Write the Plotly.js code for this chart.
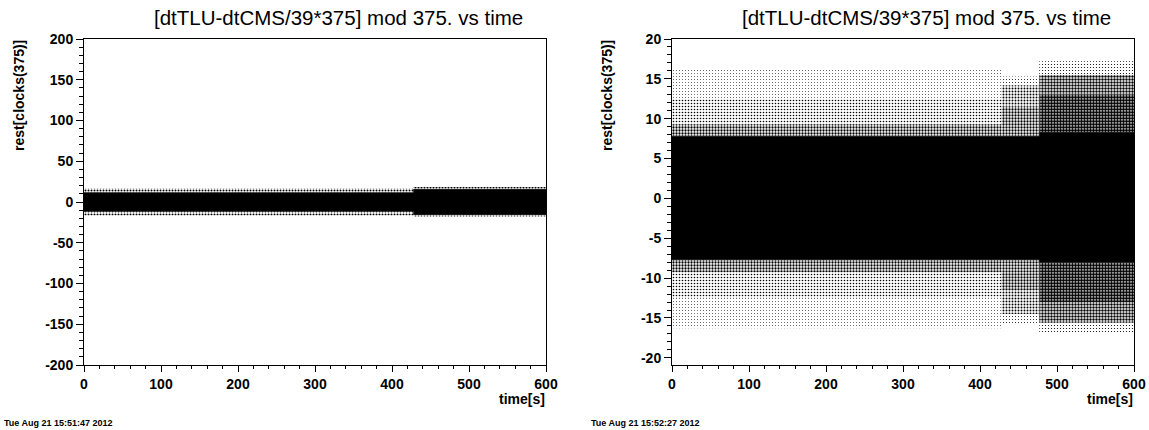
<!DOCTYPE html>
<html>
<head>
<meta charset="utf-8">
<script src="https://cdn.plot.ly/plotly-3.0.1.min.js"></script>
<style>
html,body{margin:0;padding:0;background:#fff;}
#chart{width:1149px;height:430px;}
</style>
</head>
<body>
<div id="chart"></div>
<script>
// ---------- data ----------
const TITLE_TEXT = "[dtTLU-dtCMS/39*375] mod 375. vs time";
const X_TITLE = "time[s]";
const Y_TITLE = "rest[clocks(375)]";
const DATE_LEFT = "Tue Aug 21 15:51:47 2012";
const DATE_RIGHT = "Tue Aug 21 15:52:27 2012";

const X_TICKS = [0, 100, 200, 300, 400, 500, 600];
const X_TICK_LABELS = ["0", "100", "200", "300", "400", "500", "600"];
const L_Y_TICKS = [-200, -150, -100, -50, 0, 50, 100, 150, 200];
const L_Y_TICK_LABELS = ["-200", "-150", "-100", "-50", "0", "50", "100", "150", "200"];
const R_Y_TICKS = [-20, -15, -10, -5, 0, 5, 10, 15, 20];
const R_Y_TICK_LABELS = ["-20", "-15", "-10", "-5", "0", "5", "10", "15", "20"];

// left panel: time segments and envelope of the point cloud
const L_T = [0, 428, 600];
const L_UP_CORE = [11.5, 15.5];
const L_LO_CORE = [-11.5, -15.5];
const L_UP_FRINGE = [16.5, 18.5];
const L_LO_FRINGE = [-16.5, -18.5];
const L_DENS_FRINGE = [0.35, 0.4];

// right panel: time segments, envelopes (per segment) and point density of each layer
const R_T = [0, 428, 477, 600];
const R_UP_CORE = [7.8, 7.8, 8.3];
const R_UP_1 = [9.3, 11.5, 13.0];
const R_UP_2 = [12.5, 14.2, 15.5];
const R_UP_3 = [16.3, 15.3, 17.2];
const R_LO_CORE = [-7.7, -7.7, -8.0];
const R_LO_1 = [-9.3, -11.5, -13.0];
const R_LO_2 = [-12.5, -14.5, -15.6];
const R_LO_3 = [-16.3, -15.8, -17.0];
const R_DENS_1 = [0.45, 0.45, 0.75];
const R_DENS_2 = [0.22, 0.32, 0.5];
const R_DENS_3 = [0.08, 0.1, 0.13];

// ---------- build traces ----------
const W = 1149, H = 430;
const traces = [];

function band(xa, ya, t0, t1, a, b, dens) {
  traces.push({
    type: 'scatter', mode: 'lines', xaxis: xa, yaxis: ya,
    x: [t0, t1, t1, t0, t0], y: [a, a, b, b, a],
    fill: 'toself', line: {width: 0, color: 'rgba(0,0,0,0)'},
    fillcolor: '#ffffff',
    fillpattern: {shape: '.', size: 3, solidity: dens, fgcolor: '#000000', bgcolor: '#ffffff'},
    hoverinfo: 'skip', showlegend: false
  });
}
// solid core as one step polygon across all segments (no seams)
function core(xa, ya, T, up, lo) {
  const x = [], y = [];
  for (let i = 0; i < T.length - 1; i++) { x.push(T[i], T[i+1]); y.push(up[i], up[i]); }
  for (let i = T.length - 2; i >= 0; i--) { x.push(T[i+1], T[i]); y.push(lo[i], lo[i]); }
  x.push(x[0]); y.push(y[0]);
  traces.push({
    type: 'scatter', mode: 'lines', xaxis: xa, yaxis: ya, x: x, y: y,
    fill: 'toself', fillcolor: '#000000', line: {width: 0.6, color: '#000000'},
    hoverinfo: 'skip', showlegend: false
  });
}

// left panel
for (let i = 0; i < L_T.length - 1; i++) {
  band('x', 'y', L_T[i], L_T[i+1], L_UP_CORE[i], L_UP_FRINGE[i], L_DENS_FRINGE[i]);
  band('x', 'y', L_T[i], L_T[i+1], L_LO_CORE[i], L_LO_FRINGE[i], L_DENS_FRINGE[i]);
}
core('x', 'y', L_T, L_UP_CORE, L_LO_CORE);
// right panel
for (let i = 0; i < R_T.length - 1; i++) {
  const t0 = R_T[i], t1 = R_T[i+1];
  band('x2', 'y2', t0, t1, R_UP_CORE[i], R_UP_1[i], R_DENS_1[i]);
  band('x2', 'y2', t0, t1, R_UP_1[i], R_UP_2[i], R_DENS_2[i]);
  band('x2', 'y2', t0, t1, R_UP_2[i], R_UP_3[i], R_DENS_3[i]);
  band('x2', 'y2', t0, t1, R_LO_CORE[i], R_LO_1[i], R_DENS_1[i]);
  band('x2', 'y2', t0, t1, R_LO_1[i], R_LO_2[i], R_DENS_2[i]);
  band('x2', 'y2', t0, t1, R_LO_2[i], R_LO_3[i], R_DENS_3[i]);
}
core('x2', 'y2', R_T, R_UP_CORE, R_LO_CORE);

// ---------- layout ----------
const FONT = '"Liberation Sans", Arial, Helvetica, sans-serif';
const tickFont = () => ({family: FONT, size: 14, color: '#000000', weight: 700});
const px = v => v / W;
const py = v => 1 - v / H;

function xAxis(domain, anchor) {
  return {
    domain: domain, anchor: anchor, range: [0, 600],
    tickmode: 'array', tickvals: X_TICKS, ticktext: X_TICK_LABELS,
    ticks: 'outside', ticklen: 6, tickwidth: 1, tickcolor: '#000',
    minor: {tickmode: 'linear', tick0: 0, dtick: 20, ticks: 'outside', ticklen: 3, tickcolor: '#000'},
    showline: true, linecolor: '#000', linewidth: 1, mirror: true,
    showgrid: false, zeroline: false, tickfont: tickFont(), fixedrange: true
  };
}
function yAxis(domain, anchor, range, vals, texts, minor) {
  return {
    domain: domain, anchor: anchor, range: range,
    tickmode: 'array', tickvals: vals, ticktext: texts,
    ticks: 'outside', ticklen: 7, tickwidth: 1, tickcolor: '#000',
    minor: {tickmode: 'linear', tick0: 0, dtick: minor, ticks: 'outside', ticklen: 4, tickcolor: '#000'},
    showline: true, linecolor: '#000', linewidth: 1, mirror: true,
    showgrid: false, zeroline: false, tickfont: tickFont(), fixedrange: true
  };
}

const yDom = [py(365), py(39)];
const layout = {
  width: W, height: H,
  margin: {l: 0, r: 0, t: 0, b: 0},
  paper_bgcolor: '#fff', plot_bgcolor: '#fff',
  showlegend: false,
  xaxis: xAxis([px(84), px(546)], 'y'),
  yaxis: yAxis(yDom, 'x', [-200, 200], L_Y_TICKS, L_Y_TICK_LABELS, 10),
  xaxis2: xAxis([px(672), px(1134)], 'y2'),
  yaxis2: yAxis(yDom, 'x2', [-20.9, 20], R_Y_TICKS, R_Y_TICK_LABELS, 1),
  annotations: []
};

function ann(text, x, y, opts) {
  layout.annotations.push(Object.assign({
    text: text, xref: 'paper', yref: 'paper', x: px(x), y: py(y),
    showarrow: false, xanchor: 'center', yanchor: 'middle',
    font: {family: FONT, size: 14, color: '#000'}
  }, opts || {}));
}
const boldFont = s => ({family: FONT, size: s, color: '#000', weight: 700});
ann(TITLE_TEXT, 338, 18, {font: {family: FONT, size: 20.5, color: '#000'}});
ann(TITLE_TEXT, 926, 18, {font: {family: FONT, size: 20.5, color: '#000'}});
ann(X_TITLE, 547, 399, {xanchor: 'right', font: boldFont(14)});
ann(X_TITLE, 1135, 399, {xanchor: 'right', font: boldFont(14)});
ann(Y_TITLE, 19, 96, {textangle: -90, font: boldFont(14)});
ann(Y_TITLE, 607, 96, {textangle: -90, font: boldFont(14)});
ann(DATE_LEFT, 2, 423, {xanchor: 'left', font: boldFont(9)});
ann(DATE_RIGHT, 589, 423, {xanchor: 'left', font: boldFont(9)});

Plotly.newPlot('chart', traces, layout, {staticPlot: true, displayModeBar: false});
</script>
</body>
</html>
